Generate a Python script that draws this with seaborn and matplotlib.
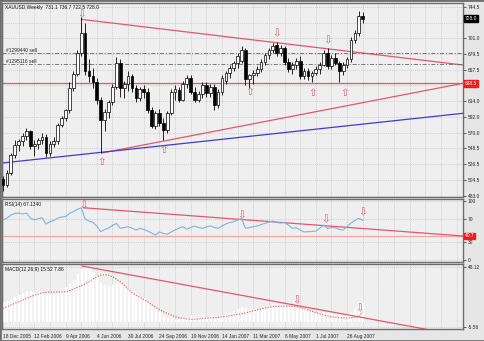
import numpy as np
import pandas as pd
import matplotlib
matplotlib.use("Agg")
import matplotlib.pyplot as plt
import matplotlib.transforms as mtransforms
from matplotlib.patches import Rectangle
import seaborn as sns

sns.set_theme(style="white")
plt.rcParams['font.family'] = ['Liberation Sans', 'DejaVu Sans']

# ---- weekly XAUUSD bars (week starting Sunday) ----
dates = pd.date_range("2005-12-18", periods=93, freq="7D")
opens = [506, 498, 515, 539, 553, 558, 566, 572, 552, 555,
         560, 564, 542, 555, 558, 581, 590, 601, 632, 651,
         680, 708, 656, 648, 640, 616, 588, 599, 613, 634,
         667, 632, 638, 648, 632, 618, 630, 626, 601, 580,
         598, 584, 574, 597, 626, 629, 616, 637, 646, 627,
         616, 624, 636, 625, 634, 608, 626, 642, 653, 660,
         666, 670, 685, 645, 650, 653, 658, 668, 677, 684,
         691, 680, 687, 668, 658, 664, 670, 648, 656, 648,
         653, 658, 664, 680, 662, 674, 667, 655, 664, 672,
         698, 708, 731.1]
highs = [510, 518, 542, 560, 562, 570, 576, 574, 560, 563,
         570, 568, 558, 564, 584, 593, 603, 640, 655, 684,
         730, 722, 672, 660, 646, 620, 603, 616, 638, 675,
         672, 642, 655, 652, 636, 634, 636, 632, 606, 600,
         603, 590, 600, 630, 636, 634, 641, 650, 650, 633,
         628, 640, 640, 638, 637, 630, 650, 656, 664, 670,
         680, 690, 688, 651, 657, 662, 672, 680, 688, 694,
         696, 692, 690, 674, 668, 674, 676, 660, 660, 656,
         662, 668, 684, 688, 678, 680, 670, 668, 675, 702,
         712, 738, 736.7]
lows = [489, 495, 512, 535, 545, 552, 560, 548, 538, 548,
        555, 536, 538, 550, 554, 578, 586, 598, 628, 648,
        676, 650, 640, 632, 610, 542, 572, 590, 608, 630,
        620, 618, 628, 626, 612, 614, 618, 598, 576, 575,
        580, 560, 570, 594, 615, 612, 614, 632, 624, 612,
        612, 618, 620, 620, 602, 604, 622, 638, 646, 655,
        660, 666, 636, 632, 638, 648, 654, 664, 672, 680,
        676, 676, 664, 654, 652, 658, 644, 645, 643, 640,
        650, 652, 662, 658, 658, 664, 640, 650, 660, 668,
        694, 704, 722.5]
closes = [498, 515, 539, 553, 558, 566, 572, 552, 555, 560,
          564, 542, 555, 558, 581, 590, 601, 632, 651, 680,
          708, 656, 648, 640, 616, 588, 599, 613, 634, 667,
          632, 638, 648, 632, 618, 630, 626, 601, 580, 598,
          584, 574, 597, 626, 631, 616, 637, 646, 627, 616,
          624, 636, 625, 634, 608, 626, 646, 653, 660, 666,
          676, 685, 645, 650, 653, 658, 668, 677, 684, 690,
          680, 687, 668, 658, 664, 670, 648, 656, 648, 653,
          658, 664, 680, 662, 674, 667, 655, 664, 672, 698,
          708, 731, 728.0]

# ---- RSI(14) ----
rsi = [68, 71, 76, 79, 79.5, 78, 79.6, 71, 68, 70,
       71.7, 61, 65, 67, 71, 73, 73.4, 79, 82, 85.6,
       88.6, 69.5, 66, 63.5, 57.6, 48, 51.7, 54, 58.5, 62,
       53.7, 55, 56.4, 54, 50.8, 53.7, 51.7, 49, 45.8, 42.4,
       47.5, 45, 43.6, 47.5, 51, 54, 56.4, 52.5, 55, 57.6,
       55, 53.7, 56, 58, 55, 53.7, 57.6, 61, 63.5, 65,
       67.8, 70, 53.7, 55, 56.4, 57.5, 60, 62, 64.4, 66,
       63.5, 62.7, 64, 59, 53.7, 54.7, 50.8, 47.5, 48, 48.3,
       49, 54, 59.3, 53.7, 54.7, 54.7, 51.7, 50.8, 56.4, 62.7,
       67, 70.7, 67.134]

# ---- MACD(12,26,9): main histogram and signal ----
macd = [17, 18, 19, 21, 23,
        25, 27, 27, 26, 26, 26,
        24, 24, 24, 25, 27,
        30, 33, 37, 42,
        47, 48.12, 46, 44, 40,
        34, 32, 31, 32, 34, 32,
        30, 29, 27, 24, 22,
        20, 17, 13, 10, 8,
        4, 2, 1, 0.5, 1, 2, 3,
        4, 3.5, 3.5, 4, 3.5, 4, 3, 3.5,
        4.5, 5.5, 7, 8.5, 10, 12, 11,
        10, 10, 10, 10.5, 11.5, 13, 14.5, 15,
        15, 14, 13, 12, 12, 11,
        10, 9, 8, 7, 7, 8, 7, 7, 7, 6, 5,
        6, 8, 11, 13.5, 15.52]
signal = [11, 12.5, 14, 15.5, 17, 18.5, 20, 21.5, 23, 24, 25,
          25.5, 25.8, 25.8, 25.8, 25.8, 26,
          27, 28.5, 30, 31.5, 33, 35, 37.5, 39.5, 41,
          41.5, 41, 39.5, 37.5, 35, 32, 28.5, 25,
          23, 21, 19, 17, 14.5, 12, 10,
          8, 6.5, 5, 3.5, 2.5, 2, 1.5, 1.2,
          1.2, 1.5, 2, 2.2, 2.4, 2.6, 2.8,
          3.2, 3.8, 4.4, 5, 5.6, 6.2, 6.9,
          7.8, 8.7, 9.6, 10.5, 11.3, 12, 12.6,
          12.9, 13, 13.1, 13, 12.9, 12.6,
          11.8, 10.8, 9.6, 8.4, 7.2, 6, 5,
          4.2, 3.5, 3, 2.6, 2.4, 2.3,
          2.6, 3, 3.5, 7.86]

# ---- axis labels ----
price_ticks = [483.0, 504.5, 526.5, 548.5, 570.0, 592.0, 614.0, 657.5, 679.5, 701.0, 744.5]
price_labels = ["483.0", "504.5", "526.5", "548.5", "570.0", "592.0", "614.0",
                "657.5", "679.5", "701.0", "744.5"]
rsi_ticks = [0, 30, 70, 100]
date_idx = list(range(0, 93, 8))
date_labels = ["18 Dec 2005", "12 Feb 2006", "9 Apr 2006", "4 Jun 2006", "30 Jul 2006",
               "24 Sep 2006", "19 Nov 2006", "14 Jan 2007", "11 Mar 2007", "6 May 2007",
               "1 Jul 2007", "26 Aug 2007"]

# ---- drawn objects: trend lines, levels, arrows ----
res_line = ([20, 117.65], [727, 663.8])
sup_line = ([25.3, 117.65], [542.1, 638.5])
blue_line = ([-0.26, 117.65], [528.2, 597.0])
level_price = 638.5
order_levels = [680.0, 665.2]
order_names = ["#1299440 sell", "#1295116 sell"]
price_arrows_up = ([25.3, 41.2, 63.2, 79.3, 87.5], [529.6, 546.2, 626.5, 625.0, 625.0])
price_arrows_dn = ([20.2, 70.1, 83.1], [734.5, 708.0, 698.0])
rsi_line = ([20.5, 117.65], [88.6, 40.7])
rsi_level = 40.7
rsi_arrows = ([20.5, 61.1, 82.4, 92.1], [93.2, 76.3, 69.5, 81.4])
macd_line = ([20.2, 117.65], [49.3, -14.0])
macd_arrows = ([75.0, 91.2], [18.6, 11.1])

bars = pd.DataFrame({"date": dates, "idx": np.arange(len(dates)), "open": opens,
                     "high": highs, "low": lows, "close": closes,
                     "rsi": rsi, "macd": macd, "signal": signal})

# ---- figure layout in pixels ----
W, H = 485, 341
fig = plt.figure(figsize=(W / 100, H / 100), dpi=100)
fig.patch.set_facecolor("#e6e6e6")


def rect(x0, y0, x1, y1):
    return [x0 / W, 1 - y1 / H, (x1 - x0) / W, (y1 - y0) / H]


ax = fig.add_axes(rect(2, 3, 463, 197))
ax_r = fig.add_axes(rect(2, 199, 463, 262), sharex=ax)
ax_m = fig.add_axes(rect(2, 264, 463, 329), sharex=ax)

RED = "#e4576a"
GRID = "#c4c4c4"
FS = 3.5
AFS = 7.5

for a in (ax, ax_r, ax_m):
    a.set_facecolor("#efefef")
    for s in a.spines.values():
        s.set_color("#6e6e6e")
        s.set_linewidth(1.0)
    for k in range(0, 118, 4):
        a.axvline(k, color=GRID, lw=0.5, ls=(0, (1.5, 1.5)), zorder=0)
    a.yaxis.tick_right()
    a.tick_params(axis="y", length=2, width=0.5, pad=1.5, labelsize=FS, colors="#222222")
    a.tick_params(axis="x", length=0)
    a.set_xlim(-0.26, 117.65)


def arrow(a, x, y, glyph):
    a.text(x, y, glyph, fontsize=AFS, color=RED, ha="center", va="center",
           family="DejaVu Sans", zorder=5)


def value_box(a, y, text, fc):
    tr = mtransforms.blended_transform_factory(a.transAxes, a.transData)
    a.text(1.004, y, text, transform=tr, fontsize=FS, color="white", va="center", ha="left",
           bbox=dict(boxstyle="square,pad=0.15", fc=fc, ec=fc), zorder=6)


# ---- main price panel ----
ax.set_ylim(481.2, 749.6)
for lv in price_ticks + [722.5, 636.0]:
    ax.axhline(lv, color=GRID, lw=0.5, ls=(0, (1.5, 1.5)), zorder=0)
ax.set_yticks(price_ticks)
ax.set_yticklabels(price_labels)

up = bars["close"] >= bars["open"]
ax.vlines(bars["idx"], bars["low"], bars["high"], color="black", lw=0.6, zorder=3)
body_lo = np.minimum(bars["open"], bars["close"])
body_h = np.maximum(np.abs(bars["close"] - bars["open"]), 0.6)
ax.bar(bars["idx"], body_h, bottom=body_lo, width=0.7,
       color=np.where(up, "white", "black"), edgecolor="black", linewidth=0.5, zorder=4)

lines = pd.DataFrame({"x": res_line[0] + sup_line[0] + blue_line[0],
                      "y": res_line[1] + sup_line[1] + blue_line[1],
                      "name": ["res"] * 2 + ["sup"] * 2 + ["blue"] * 2})
sns.lineplot(data=lines, x="x", y="y", hue="name", ax=ax, legend=False,
             palette={"res": RED, "sup": RED, "blue": "#3c3cd2"}, lw=0.9, zorder=2)
ax.axhline(level_price, color=RED, lw=0.9, zorder=2)
for lv, nm in zip(order_levels, order_names):
    ax.axhline(lv, color="#5f6f5f", lw=0.6, ls=(0, (5, 2, 1.5, 2)), zorder=2)
    ax.text(0.8, lv + 0.5, nm, fontsize=FS, color="#222222", va="bottom", ha="left")

for x, y in zip(*price_arrows_up):
    arrow(ax, x, y, "\u21e7")
for x, y in zip(*price_arrows_dn):
    arrow(ax, x, y, "\u21e9")

value_box(ax, closes[-1], f"{closes[-1]:.1f}", "black")
value_box(ax, level_price, f"{level_price:.1f}", "#ee1c1c")
ax.text(0.006, 0.99, "XAUUSD,Weekly  %.1f %.1f %.1f %.1f" % (opens[-1], highs[-1], lows[-1], closes[-1]),
        transform=ax.transAxes, fontsize=FS, va="top", ha="left", color="#111111")
ax.set_xlabel("")
ax.set_ylabel("")
ax.tick_params(axis="x", labelbottom=False)

# ---- RSI panel ----
ax_r.set_ylim(-3.4, 103.4)
for lv in rsi_ticks:
    ax_r.axhline(lv, color=GRID, lw=0.5, ls=(0, (1.5, 1.5)), zorder=0)
ax_r.set_yticks(rsi_ticks)
ax_r.set_yticklabels([str(t) for t in rsi_ticks])
ax_r.axhline(rsi_level, color="#f2a7a0", lw=0.9, zorder=1)
sns.lineplot(data=bars, x="idx", y="rsi", ax=ax_r, color="#7fb3dd", lw=0.8, zorder=3)
sns.lineplot(x=rsi_line[0], y=rsi_line[1], ax=ax_r, color=RED, lw=0.9, zorder=2)
for x, y in zip(*rsi_arrows):
    arrow(ax_r, x, y, "\u21e9")
value_box(ax_r, rsi_level, f"{rsi_level:.1f}", "#ee1c1c")
ax_r.text(0.006, 0.96, "RSI(14) %.4f" % rsi[-1], transform=ax_r.transAxes, fontsize=FS,
          va="top", ha="left", color="#111111")
ax_r.set_xlabel("")
ax_r.set_ylabel("")
ax_r.tick_params(axis="x", labelbottom=False)

# ---- MACD panel ----
ax_m.set_ylim(-7.64, 51.1)
macd_ticks = [-5.56, 48.12]
for lv in macd_ticks:
    ax_m.axhline(lv, color=GRID, lw=0.5, ls=(0, (1.5, 1.5)), zorder=0)
ax_m.set_yticks(macd_ticks)
ax_m.set_yticklabels([f"{t:.2f}" for t in macd_ticks])
ax_m.bar(bars["idx"], bars["macd"], width=0.25, color="#bdbdbd", zorder=2)
sns.lineplot(data=bars, x="idx", y="signal", ax=ax_m, color="#e06a6a", lw=0.8,
             ls=(0, (1.2, 1.2)), zorder=3)
sns.lineplot(x=macd_line[0], y=macd_line[1], ax=ax_m, color=RED, lw=0.9, zorder=2)
for x, y in zip(*macd_arrows):
    arrow(ax_m, x, y, "\u21e9")
ax_m.text(0.006, 0.96, "MACD(12,26,9) %.2f %.2f" % (macd[-1], signal[-1]),
          transform=ax_m.transAxes, fontsize=FS, va="top", ha="left", color="#111111")
ax_m.set_xlabel("")
ax_m.set_ylabel("")
ax_m.set_xticks(date_idx)
ax_m.set_xticklabels(date_labels, ha="left")
ax_m.tick_params(axis="x", length=2.5, width=0.5, pad=1, labelsize=FS, colors="#222222",
                 direction="out", labelbottom=True)
ax_m.set_xlim(-0.26, 117.65)

# window frame
fig.patches.append(Rectangle((0, 0), 1, 1, transform=fig.transFigure, fill=False,
                             ec="#707070", lw=2.0))

fig.savefig("out.png", dpi=100, facecolor=fig.get_facecolor())
